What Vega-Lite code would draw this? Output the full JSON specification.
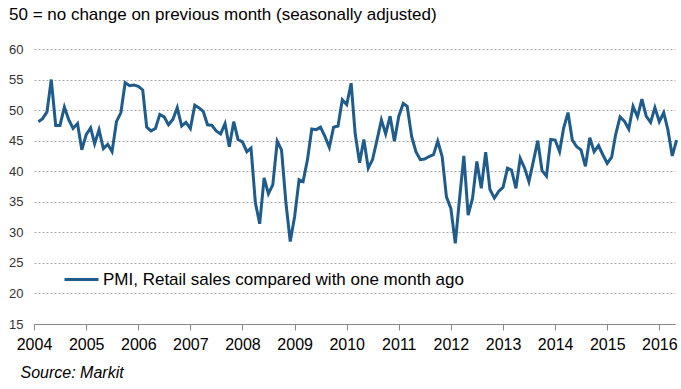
{
  "$schema": "https://vega.github.io/schema/vega-lite/v6.json",
  "width": 641,
  "height": 275,
  "autosize": {"type": "none"},
  "padding": {"left": 34, "top": 49, "right": 6, "bottom": 65},
  "background": "white",
  "title": {"text": "50 = no change on previous month  (seasonally adjusted)", "anchor": "start", "frame": "group", "dx": -25, "offset": 6, "baseline": "alphabetic", "fontSize": 17, "font": "Liberation Sans", "fontWeight": "normal", "color": "#000"},
  "data": {"values": [
    {"d":"2004-02-01","v":48.1},{"d":"2004-03-01","v":48.6},{"d":"2004-04-01","v":49.7},{"d":"2004-05-01","v":55.0},{"d":"2004-06-01","v":47.5},{"d":"2004-07-01","v":47.5},{"d":"2004-08-01","v":50.5},{"d":"2004-09-01","v":48.4},{"d":"2004-10-01","v":47.0},{"d":"2004-11-01","v":47.8},{"d":"2004-12-01","v":43.5},
    {"d":"2005-01-01","v":46.0},{"d":"2005-02-01","v":47.1},{"d":"2005-03-01","v":44.5},{"d":"2005-04-01","v":46.8},{"d":"2005-05-01","v":43.7},{"d":"2005-06-01","v":44.4},{"d":"2005-07-01","v":43.2},{"d":"2005-08-01","v":48.1},{"d":"2005-09-01","v":49.6},{"d":"2005-10-01","v":54.5},{"d":"2005-11-01","v":54.0},{"d":"2005-12-01","v":54.1},
    {"d":"2006-01-01","v":53.9},{"d":"2006-02-01","v":53.3},{"d":"2006-03-01","v":47.2},{"d":"2006-04-01","v":46.6},{"d":"2006-05-01","v":47.0},{"d":"2006-06-01","v":49.3},{"d":"2006-07-01","v":48.9},{"d":"2006-08-01","v":47.6},{"d":"2006-09-01","v":48.5},{"d":"2006-10-01","v":50.4},{"d":"2006-11-01","v":47.4},{"d":"2006-12-01","v":48.0},
    {"d":"2007-01-01","v":47.0},{"d":"2007-02-01","v":50.8},{"d":"2007-03-01","v":50.4},{"d":"2007-04-01","v":49.8},{"d":"2007-05-01","v":47.6},{"d":"2007-06-01","v":47.5},{"d":"2007-07-01","v":46.6},{"d":"2007-08-01","v":46.1},{"d":"2007-09-01","v":47.8},{"d":"2007-10-01","v":44.0},{"d":"2007-11-01","v":48.1},{"d":"2007-12-01","v":45.2},
    {"d":"2008-01-01","v":44.8},{"d":"2008-02-01","v":43.2},{"d":"2008-03-01","v":43.8},{"d":"2008-04-01","v":34.8},{"d":"2008-05-01","v":31.4},{"d":"2008-06-01","v":38.9},{"d":"2008-07-01","v":36.3},{"d":"2008-08-01","v":37.8},{"d":"2008-09-01","v":44.9},{"d":"2008-10-01","v":43.5},{"d":"2008-11-01","v":34.8},{"d":"2008-12-01","v":28.5},
    {"d":"2009-01-01","v":32.6},{"d":"2009-02-01","v":38.6},{"d":"2009-03-01","v":38.3},{"d":"2009-04-01","v":41.9},{"d":"2009-05-01","v":46.9},{"d":"2009-06-01","v":46.8},{"d":"2009-07-01","v":47.2},{"d":"2009-08-01","v":45.7},{"d":"2009-09-01","v":43.9},{"d":"2009-10-01","v":47.2},{"d":"2009-11-01","v":47.4},{"d":"2009-12-01","v":51.7},
    {"d":"2010-01-01","v":50.9},{"d":"2010-02-01","v":54.4},{"d":"2010-03-01","v":46.2},{"d":"2010-04-01","v":41.4},{"d":"2010-05-01","v":45.2},{"d":"2010-06-01","v":40.5},{"d":"2010-07-01","v":41.9},{"d":"2010-08-01","v":45.1},{"d":"2010-09-01","v":48.4},{"d":"2010-10-01","v":46.1},{"d":"2010-11-01","v":49.0},{"d":"2010-12-01","v":44.9},
    {"d":"2011-01-01","v":49.0},{"d":"2011-02-01","v":51.1},{"d":"2011-03-01","v":50.6},{"d":"2011-04-01","v":45.7},{"d":"2011-05-01","v":43.2},{"d":"2011-06-01","v":41.9},{"d":"2011-07-01","v":42.0},{"d":"2011-08-01","v":42.4},{"d":"2011-09-01","v":42.7},{"d":"2011-10-01","v":44.9},{"d":"2011-11-01","v":42.4},{"d":"2011-12-01","v":35.8},
    {"d":"2012-01-01","v":33.9},{"d":"2012-02-01","v":28.2},{"d":"2012-03-01","v":35.3},{"d":"2012-04-01","v":42.5},{"d":"2012-05-01","v":32.8},{"d":"2012-06-01","v":35.6},{"d":"2012-07-01","v":41.6},{"d":"2012-08-01","v":37.2},{"d":"2012-09-01","v":43.1},{"d":"2012-10-01","v":37.0},{"d":"2012-11-01","v":35.6},{"d":"2012-12-01","v":36.7},
    {"d":"2013-01-01","v":37.4},{"d":"2013-02-01","v":40.5},{"d":"2013-03-01","v":40.2},{"d":"2013-04-01","v":37.2},{"d":"2013-05-01","v":42.1},{"d":"2013-06-01","v":40.5},{"d":"2013-07-01","v":38.3},{"d":"2013-08-01","v":41.6},{"d":"2013-09-01","v":45.0},{"d":"2013-10-01","v":40.1},{"d":"2013-11-01","v":39.2},{"d":"2013-12-01","v":45.2},
    {"d":"2014-01-01","v":45.1},{"d":"2014-02-01","v":43.2},{"d":"2014-03-01","v":47.0},{"d":"2014-04-01","v":49.6},{"d":"2014-05-01","v":45.1},{"d":"2014-06-01","v":44.0},{"d":"2014-07-01","v":43.5},{"d":"2014-08-01","v":40.8},{"d":"2014-09-01","v":45.5},{"d":"2014-10-01","v":43.2},{"d":"2014-11-01","v":44.2},{"d":"2014-12-01","v":42.7},
    {"d":"2015-01-01","v":41.3},{"d":"2015-02-01","v":42.3},{"d":"2015-03-01","v":46.0},{"d":"2015-04-01","v":48.9},{"d":"2015-05-01","v":48.2},{"d":"2015-06-01","v":46.9},{"d":"2015-07-01","v":50.6},{"d":"2015-08-01","v":48.9},{"d":"2015-09-01","v":51.8},{"d":"2015-10-01","v":49.0},{"d":"2015-11-01","v":48.0},{"d":"2015-12-01","v":50.4},
    {"d":"2016-01-01","v":48.1},{"d":"2016-02-01","v":49.6},{"d":"2016-03-01","v":46.8},{"d":"2016-04-01","v":42.5},{"d":"2016-05-01","v":45.1}
  ]},
  "mark": {"type": "line", "strokeWidth": 3, "interpolate": "linear"},
  "encoding": {
    "x": {
      "field": "d", "type": "temporal",
      "scale": {"type": "utc", "domain": [{"year": 2004, "month": 1, "date": 1, "utc": true}, {"year": 2016, "month": 4, "date": 20, "utc": true}]},
      "axis": {
        "tickCount": {"interval": "year", "step": 1}, "format": "%Y", "grid": false,
        "labelFont": "Liberation Sans", "labelFontSize": 16, "labelColor": "#000", "labelPadding": 6,
        "labelOverlap": false, "labelFlush": false,
        "tickSize": 6, "tickColor": "#888", "domainColor": "#888",
        "title": "Source: Markit", "titleFont": "Liberation Sans", "titleFontStyle": "italic", "titleFontWeight": "normal",
        "titleFontSize": 16, "titleColor": "#000", "titleAnchor": "start", "titleAlign": "left", "titleBaseline": "middle",
        "titleX": -14, "titleY": 48
      }
    },
    "y": {
      "field": "v", "type": "quantitative",
      "scale": {"domain": [15, 60], "nice": false, "zero": false},
      "axis": {
        "values": [15, 20, 25, 30, 35, 40, 45, 50, 55, 60], "title": null, "domain": false, "ticks": false,
        "grid": true, "gridDash": [2, 2], "gridColor": "#a8a8a8", "gridWidth": 1,
        "labelFont": "Liberation Sans", "labelFontSize": 13, "labelColor": "#333", "labelPadding": 11
      }
    },
    "color": {
      "datum": "PMI, Retail sales compared with one month ago",
      "scale": {"range": ["#1f5b8b"]},
      "legend": {
        "title": null, "orient": "none", "legendX": 29, "legendY": 212, "padding": 0,
        "symbolType": "stroke", "symbolSize": 1156, "symbolStrokeWidth": 3, "labelOffset": 3, "labelLimit": 0,
        "labelFont": "Liberation Sans", "labelFontSize": 17, "labelColor": "#000"
      }
    }
  },
  "config": {"view": {"stroke": null}}
}
